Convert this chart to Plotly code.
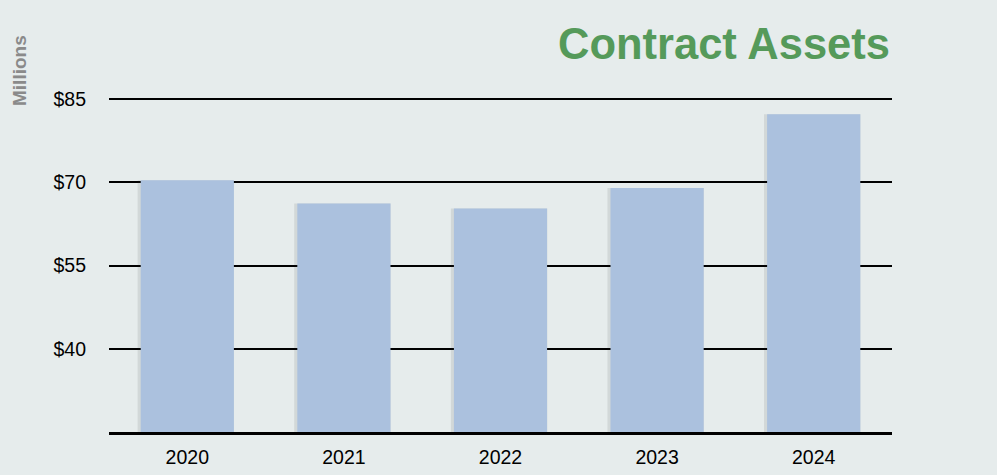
import plotly.graph_objects as go

years = ["2020", "2021", "2022", "2023", "2024"]
values = [70.4, 66.2, 65.3, 69.0, 82.3]
tick_vals = [40, 55, 70, 85]
tick_text = ["$40", "$55", "$70", "$85"]

fig = go.Figure()
# subtle shadow behind bars (mostly on the left side)
fig.add_trace(go.Bar(
    x=years, y=values,
    marker=dict(color="rgba(40,40,40,0.10)", line=dict(width=0)),
    width=0.615, offset=-0.317, hoverinfo="skip",
))
fig.add_trace(go.Bar(
    x=years, y=values,
    marker=dict(color="#abc1de", line=dict(width=0)),
    width=0.595, offset=-0.2975,
))

fig.update_layout(
    width=997, height=475,
    barmode="overlay",
    margin=dict(l=109, r=105, t=97, b=43, autoexpand=False),
    paper_bgcolor="#e6ecec",
    plot_bgcolor="#e6ecec",
    showlegend=False,
    font=dict(family="Liberation Sans, Arial, sans-serif", size=19, color="#000000"),
    xaxis=dict(
        automargin=False,
        showgrid=False, zeroline=False,
        showline=True, linecolor="#000000", linewidth=2.5,
        ticks="", ticklabelstandoff=6,
        tickfont=dict(size=19.5),
    ),
    yaxis=dict(
        automargin=False,
        range=[25, 85.4],
        tickvals=tick_vals, ticktext=tick_text,
        showgrid=True, gridcolor="#000000", gridwidth=2,
        zeroline=False, showline=False, ticks="",
        ticklabelstandoff=22,
        tickfont=dict(size=19.5),
    ),
    annotations=[
        dict(text="<b>Contract Assets</b>", xref="paper", yref="paper",
             x=1.0, y=1.0, xanchor="right", yanchor="middle", yshift=53,
             showarrow=False,
             font=dict(size=43.5, color="#559a5a", family="Liberation Sans, Arial, sans-serif")),
        dict(text="<b>Millions</b>", xref="paper", yref="paper",
             x=0, y=1.0, xanchor="center", yanchor="middle",
             xshift=-90, yshift=26, textangle=-90, showarrow=False,
             font=dict(size=19, color="#8a8a8a", family="Liberation Sans, Arial, sans-serif")),
    ],
)

fig.write_html("out.html")
